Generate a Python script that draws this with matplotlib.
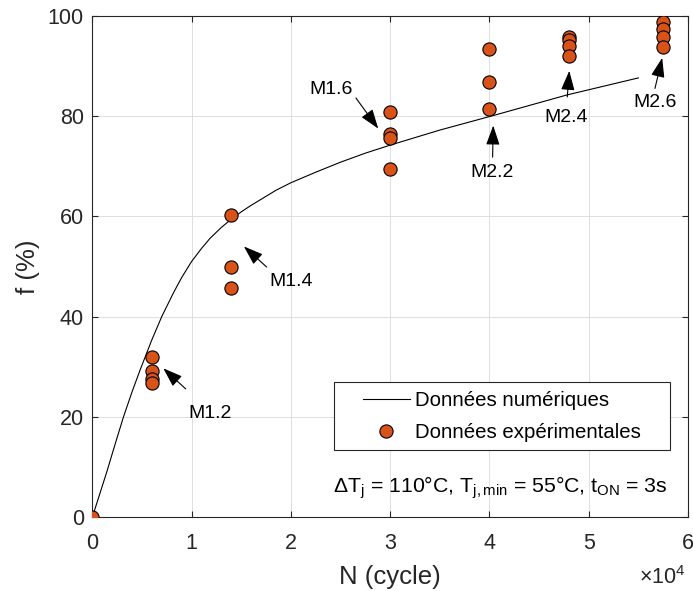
import numpy as np
import matplotlib
matplotlib.use('Agg')
import matplotlib.pyplot as plt
from matplotlib.ticker import FuncFormatter
from matplotlib.lines import Line2D
from matplotlib.legend_handler import HandlerLine2D

plt.rcParams['font.family'] = ['Liberation Sans', 'DejaVu Sans']
plt.rcParams['mathtext.fontset'] = 'custom'
plt.rcParams['mathtext.rm'] = 'Liberation Sans'
plt.rcParams['mathtext.it'] = 'Liberation Sans:italic'

# Numerical curve
N_num = [0, 1450, 2300, 3120, 4000, 4800, 5980, 6990, 8160, 9000, 10000, 11000,
         11850, 13000, 14040, 15000, 16000, 17000, 18500, 20000, 22500,
         25000, 27500, 30000, 35000, 40200, 47800, 55000]
f_num = [0, 9.0, 14.6, 19.9, 25.0, 29.3, 35.3, 40.0, 44.7, 47.8, 51.0, 53.6,
         55.6, 57.8, 59.5, 60.9, 62.2, 63.4, 65.2, 66.7, 68.8,
         70.8, 72.6, 74.2, 77.2, 80.0, 84.2, 87.6]

# Experimental points
N_exp = [0,
         6000, 6000, 6000, 6000,
         14000, 14000, 14000,
         30000, 30000, 30000, 30000,
         40000, 40000, 40000,
         48000, 48000, 48000, 48000,
         57500, 57500, 57500, 57500]
f_exp = [0,
         31.9, 29.2, 27.5, 26.8,
         60.2, 49.9, 45.8,
         80.8, 76.5, 75.6, 69.4,
         93.3, 86.8, 81.4,
         95.7, 95.2, 93.9, 91.9,
         98.7, 97.4, 95.7, 93.7]

# Module labels: (text, arrow head, arrow tail, text centre)
labels = [
    ('M1.2', (7150, 29.7), (9410, 25.6), (11850, 20.7)),
    ('M1.4', (15270, 54.0), (17560, 49.9), (20000, 47.0)),
    ('M1.6', (28800, 77.5), (26550, 83.6), (24040, 85.3)),
    ('M2.2', (40380, 78.1), (40320, 71.8), (40220, 68.8)),
    ('M2.4', (48040, 89.0), (47840, 83.8), (47700, 79.8)),
    ('M2.6', (57400, 91.6), (56670, 85.5), (56670, 82.6)),
]

fig = plt.figure(figsize=(6.93, 5.91), dpi=100)
ax = fig.add_axes([0.1332, 0.1247, 0.8596, 0.8487])

ax.plot(N_num, f_num, color='black', lw=0.8, label='Données numériques', zorder=3,
        solid_joinstyle='round')
ax.plot(N_exp, f_exp, 'o', ls='none', color='#D95319', mec='black', mew=0.8,
        ms=9.5, label='Données expérimentales', zorder=4)

for txt, head, tail, pos in labels:
    ax.annotate('', xy=head, xytext=tail,
                arrowprops=dict(arrowstyle='-|>,head_length=1.2,head_width=0.42',
                                color='black', lw=0.8, mutation_scale=10,
                                shrinkA=0, shrinkB=0))
    ax.text(pos[0], pos[1], txt, ha='center', va='center', fontsize=14,
            color='black')

ax.set_xlim(0, 60000)
ax.set_ylim(0, 100)
ax.set_xticks(np.arange(0, 60001, 10000))
ax.set_yticks(np.arange(0, 101, 20))
ax.xaxis.set_major_formatter(FuncFormatter(lambda v, p: '%d' % round(v / 1e4)))

ax.grid(True, color='#dedede', lw=0.7)
ax.set_axisbelow(True)
for s in ax.spines.values():
    s.set_color('#262626')
    s.set_linewidth(0.8)
ax.tick_params(direction='in', length=4.3, width=0.8, colors='#262626',
               labelsize=15.5, top=True, right=True)
ax.tick_params(axis='x', pad=11.5)
ax.tick_params(axis='y', pad=6)

ax.set_xlabel('N (cycle)', fontsize=18.5, color='#262626', labelpad=8)
ax.set_ylabel('f (%)', fontsize=18.5, color='#262626', labelpad=6)
ax.text(0.996, -0.121, r'$\mathregular{\times10^{4}}$', transform=ax.transAxes,
        ha='right', va='center', fontsize=15.5, color='#262626')

leg = ax.legend(loc='lower left', bbox_to_anchor=(0.405, 0.134, 0.564, 0.14),
                mode='expand', fontsize=14.7, handlelength=3.32,
                handletextpad=0.25, borderpad=0.4, frameon=True,
                fancybox=False, borderaxespad=0, labelspacing=0.65,
                handler_map={Line2D: HandlerLine2D(xpad=1.02)})
leg.get_frame().set_edgecolor('#262626')
leg.get_frame().set_linewidth(0.8)
leg.get_frame().set_alpha(1)

ax.text(0.684, 0.058,
        r'ΔT$_{\mathregular{j}}$ = 110°C, T$_{\mathregular{j,min}}$ = 55°C, t$_{\mathregular{ON}}$ = 3s',
        transform=ax.transAxes, ha='center', va='center', fontsize=15.3)

fig.savefig('out.png', dpi=100)
